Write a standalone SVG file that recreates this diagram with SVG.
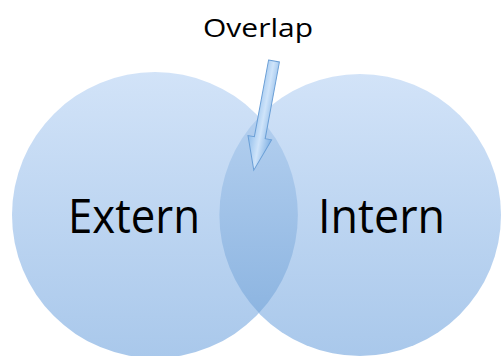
<svg xmlns="http://www.w3.org/2000/svg" width="502" height="356" viewBox="0 0 502 356">
<defs>
<linearGradient id="circ" x1="0" y1="0" x2="0" y2="1">
<stop offset="0" stop-color="#d2e3f8"/>
<stop offset="1" stop-color="#a9c8eb"/>
</linearGradient>
<linearGradient id="lens" gradientUnits="userSpaceOnUse" x1="0" y1="117" x2="0" y2="313">
<stop offset="0" stop-color="#b3cfef"/>
<stop offset="1" stop-color="#8db5e1"/>
</linearGradient>
<linearGradient id="arr" x1="0" y1="0" x2="1" y2="0">
<stop offset="0" stop-color="#8fbdeb"/>
<stop offset="0.5" stop-color="#cfe4fa"/>
<stop offset="1" stop-color="#7fb0e3"/>
</linearGradient>
<style>
.lbl{font-family:"Open Sans","Noto Sans","Liberation Sans",sans-serif;fill:#000}
.big{font-size:48px}
.small{font-size:26px}
</style>
</defs>
<rect width="502" height="356" fill="#ffffff"/>
<g id="extern">
<circle cx="155" cy="215" r="143" fill="url(#circ)"/>
</g>
<g id="intern">
<circle cx="360" cy="215" r="141" fill="url(#circ)"/>
</g>
<g id="overlap-region">
<path d="M259,117 A143,143 0 0 1 259,313 A141,141 0 0 1 259,117 Z" fill="url(#lens)"/>
</g>
<g id="extern-label"><text class="lbl big" x="68" y="233" textLength="132" lengthAdjust="spacingAndGlyphs">Extern</text></g>
<g id="intern-label"><text class="lbl big" x="318" y="233" textLength="127" lengthAdjust="spacingAndGlyphs">Intern</text></g>
<g id="overlap-label"><text class="lbl small" x="203" y="37" textLength="110" lengthAdjust="spacingAndGlyphs">Overlap</text></g>
<g id="connectors">
<polygon transform="translate(274,61) rotate(10.5)" points="-5.5,0 5.5,0 5.5,78 12,78 0,111 -12,78 -5.5,78" fill="url(#arr)" stroke="#6b9fd6" stroke-width="1"/>
</g>
</svg>
